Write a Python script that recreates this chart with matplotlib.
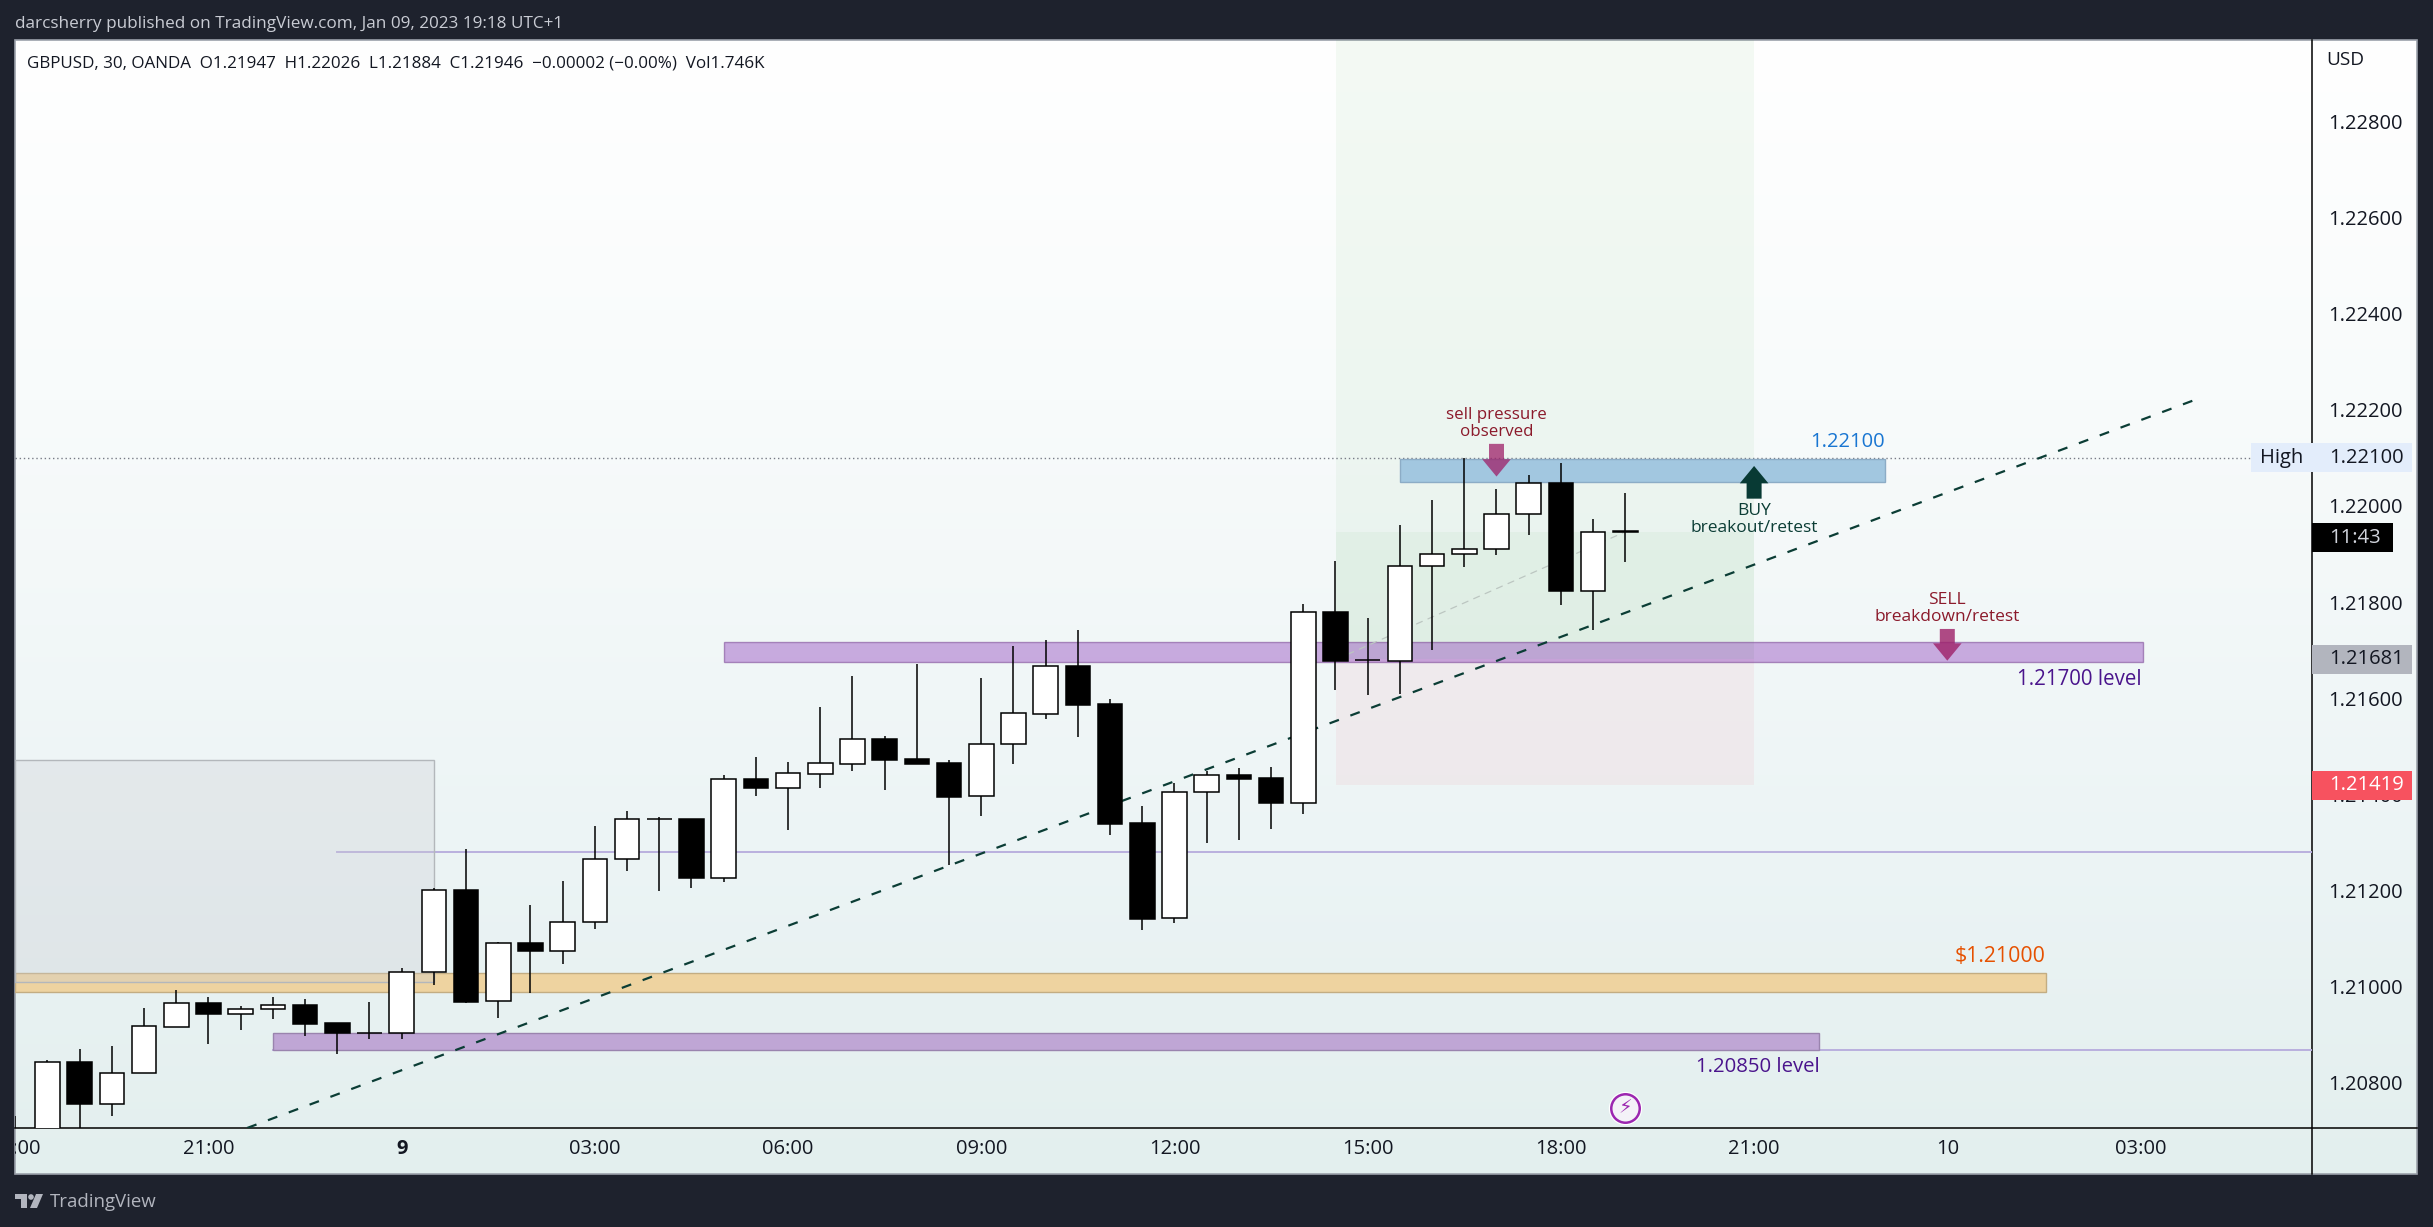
import numpy as np
import matplotlib
matplotlib.use("Agg")
import matplotlib.pyplot as plt
from matplotlib.patches import Rectangle, Polygon, Circle, FancyBboxPatch
from matplotlib.transforms import Bbox

# ---------- data ----------
bar_index = list(range(-6, 45))
opens = [1.20690, 1.20600, 1.20843, 1.20755, 1.20820, 1.20917, 1.20966, 1.20944, 1.20953, 1.20962,
         1.20924, 1.20904, 1.20903, 1.21030, 1.21201, 1.20970, 1.21091, 1.21075, 1.21134, 1.21265,
         1.21349, 1.21349, 1.21227, 1.21432, 1.21414, 1.21443, 1.21464, 1.21515, 1.21474, 1.21466,
         1.21396, 1.21504, 1.21568, 1.21667, 1.21588, 1.21341, 1.21142, 1.21404, 1.21441, 1.21434,
         1.21383, 1.21780, 1.21679, 1.21678, 1.21875, 1.21899, 1.21910, 1.21983, 1.22047, 1.21823,
         1.21947]
highs = [1.20731, 1.20848, 1.20870, 1.20877, 1.20956, 1.20993, 1.20978, 1.20960, 1.20978, 1.20974,
         1.20924, 1.20968, 1.21039, 1.21206, 1.21286, 1.21093, 1.21170, 1.21220, 1.21334, 1.21365,
         1.21352, 1.21349, 1.21440, 1.21478, 1.21468, 1.21582, 1.21646, 1.21522, 1.21671, 1.21472,
         1.21642, 1.21709, 1.21721, 1.21742, 1.21598, 1.21376, 1.21423, 1.21449, 1.21454, 1.21457,
         1.21796, 1.21886, 1.21767, 1.21960, 1.22012, 1.22100, 1.22035, 1.22064, 1.22089, 1.21972,
         1.22026]
lows = [1.20640, 1.20590, 1.20690, 1.20730, 1.20820, 1.20917, 1.20881, 1.20910, 1.20933, 1.20898,
        1.20859, 1.20891, 1.20891, 1.21003, 1.20967, 1.20935, 1.20987, 1.21048, 1.21120, 1.21240,
        1.21198, 1.21206, 1.21218, 1.21397, 1.21326, 1.21414, 1.21449, 1.21409, 1.21464, 1.21253,
        1.21355, 1.21463, 1.21557, 1.21520, 1.21316, 1.21118, 1.21133, 1.21299, 1.21305, 1.21328,
        1.21359, 1.21617, 1.21606, 1.21609, 1.21701, 1.21872, 1.21898, 1.21940, 1.21794, 1.21741,
        1.21884]
closes = [1.20660, 1.20843, 1.20755, 1.20820, 1.20918, 1.20966, 1.20944, 1.20953, 1.20961, 1.20923,
          1.20903, 1.20903, 1.21030, 1.21201, 1.20969, 1.21090, 1.21075, 1.21134, 1.21265, 1.21349,
          1.21348, 1.21227, 1.21431, 1.21414, 1.21444, 1.21465, 1.21515, 1.21472, 1.21464, 1.21395,
          1.21504, 1.21569, 1.21667, 1.21586, 1.21339, 1.21141, 1.21405, 1.21440, 1.21432, 1.21382,
          1.21779, 1.21678, 1.21679, 1.21875, 1.21899, 1.21910, 1.21983, 1.22047, 1.21822, 1.21945,
          1.21946]

time_ticks = [-6, 0, 6, 12, 18, 24, 30, 36, 42, 48, 54, 60]
time_labels = ["18:00", "21:00", "9", "03:00", "06:00", "09:00", "12:00", "15:00", "18:00", "21:00", "10", "03:00"]
price_ticks = [1.208, 1.210, 1.212, 1.214, 1.216, 1.218, 1.220, 1.222, 1.224, 1.226, 1.228]

# zones: left, right, low, high
zone_gray = (-6.01, 7.0, 1.21009, 1.21471)
zone_orange = (-6.01, 57.05, 1.20988, 1.21028)
zone_purple_mid = (16.0, 60.08, 1.21676, 1.21717)
zone_purple_low = (2.0, 50.03, 1.20869, 1.20904)
zone_blue = (37.0, 52.05, 1.22049, 1.22097)

long_left, long_right = 35.03, 48.0
long_top, long_entry, long_stop, long_close = 1.2300, 1.21681, 1.21419, 1.21946
mid_ray = (4.0, 1.21280)
low_ray = (2.0, 1.20869)
high_level = 1.22100
trend_x = [1.2, 61.75]
trend_y = [1.20706, 1.22222]

header = "darcsherry published on TradingView.com, Jan 09, 2023 19:18 UTC+1"
legend = "GBPUSD, 30, OANDA  O1.21947  H1.22026  L1.21884  C1.21946  \u22120.00002 (\u22120.00%)  Vol1.746K"

# ---------- layout ----------
W, H = 2433, 1227
FONT = "Open Sans"
DARK = "#1e222d"
plt.rcParams["font.family"] = [FONT, "DejaVu Sans"]

fig = plt.figure(figsize=(W / 100, H / 100), dpi=100, facecolor=DARK)

page = fig.add_axes([0, 0, 1, 1], zorder=0)
page.set_xlim(0, W)
page.set_ylim(H, 0)
page.axis("off")

ys = np.arange(40, 1175)
stops_y = [40, 400, 850, 1174]
grad = np.stack([np.interp(ys, stops_y, c) for c in ([255, 248, 236, 227], [255, 251, 244, 239], [255, 251, 245, 238])], axis=-1)
page.imshow(grad[:, None, :] / 255.0, extent=(15, 2417, 1174, 40), aspect="auto", zorder=0, interpolation="bilinear")
page.set_xlim(0, W)
page.set_ylim(H, 0)
page.add_patch(Rectangle((15, 40), 2402, 1134, fc="none", ec="#9ba1aa", lw=1.2, zorder=1))
page.plot([2312, 2312], [40, 1174], color="black", lw=1.1, zorder=2)
page.plot([15, 2417], [1128, 1128], color="black", lw=1.1, zorder=2)

page.text(15, 24, header, color="#c9ccd4", fontsize=12.3, va="center", ha="left")
page.text(27, 63, legend, color="#131722", fontsize=12.25, va="center", ha="left")
page.text(2326, 60, "USD", color="#131722", fontsize=13.7, va="center", ha="left")
page.text(50, 1202, "TradingView", color="#b2b5be", fontsize=13.4, va="center", ha="left")
page.add_patch(Polygon([(15, 1194), (27, 1194), (27, 1208), (21, 1208), (21, 1199), (15, 1199)], fc="#b2b5be", lw=0))
page.add_patch(Circle((31, 1197), 2.8, fc="#b2b5be", lw=0))
page.add_patch(Polygon([(36, 1194), (43, 1194), (37, 1208), (30, 1208)], fc="#b2b5be", lw=0))

ax = fig.add_axes([15 / W, 1 - 1128 / H, 2297 / W, 1088 / H], zorder=1)
ax.patch.set_alpha(0)
XL = (-6.009, 65.326)
ax.set_xlim(*XL)
ax.set_ylim(1.20706, 1.22969)
for s in ax.spines.values():
    s.set_visible(False)


def zone(z, fc, ec, zo=2.0):
    ax.add_patch(Rectangle((z[0], z[2]), z[1] - z[0], z[3] - z[2], fc=fc, ec=ec, lw=1.0, zorder=zo))


# long position tool
ax.add_patch(Rectangle((long_left, long_entry), long_right - long_left, long_top - long_entry, fc=(76 / 255, 175 / 255, 80 / 255, 0.06), lw=0, zorder=1))
ax.add_patch(Rectangle((long_left, long_entry), long_right - long_left, long_close - long_entry, fc=(76 / 255, 175 / 255, 80 / 255, 0.05), lw=0, zorder=1.1))
ax.add_patch(Rectangle((long_left, long_stop), long_right - long_left, long_entry - long_stop, fc=(238 / 255, 100 / 255, 120 / 255, 0.08), lw=0, zorder=1))

ax.plot([mid_ray[0], XL[1]], [mid_ray[1]] * 2, color="#b9b0de", lw=1.4, zorder=1.5)
ax.plot([low_ray[0], XL[1]], [low_ray[1]] * 2, color="#b9b0de", lw=1.4, zorder=1.5)
ax.axhline(high_level, xmax=(2251 - 15) / 2297, color="#787b86", lw=1.0, ls=(0, (1, 2)), zorder=1.5)

zone(zone_orange, "#eed3a0", "#c3ad82", zo=1.8)
zone(zone_gray, (204 / 255, 205 / 255, 211 / 255, 0.30), "#b3b7bb", zo=1.9)
zone(zone_purple_low, "#bfa6d5", "#9a84ae")
zone(zone_purple_mid, (0.56, 0.25, 0.74, 0.42), (0.5, 0.3, 0.6, 0.6))
zone(zone_blue, "#a2c7e0", "#8cacc6")

# projected path
ax.annotate("", xy=(long_right - 4.0, long_close), xytext=(long_left, long_entry), zorder=2.2,
            arrowprops=dict(arrowstyle="->", linestyle=(0, (5, 5)), color="#bcc6c1", lw=0.9, shrinkA=0, shrinkB=0))

# trend line
ax.plot(trend_x, trend_y, color="#0b3d35", lw=1.6, ls=(0, (4.5, 5.5)), zorder=2.4)


def big_arrow(x, tail, tip, color, alpha):
    ax.annotate("", xy=(x, tip), xytext=(x, tail), zorder=3,
                arrowprops=dict(width=10.8, headwidth=20.6, headlength=12.5, shrink=0, fc=color, lw=0, alpha=alpha))


big_arrow(40, 1.22129, 1.22061, "#9e1f68", 0.75)
big_arrow(48, 1.22015, 1.22083, "#083a34", 1.0)
big_arrow(54, 1.21744, 1.21678, "#9e1f68", 0.8)

# candles
x = np.array(bar_index, float)
o, h, l, c = map(np.array, (opens, highs, lows, closes))
ax.vlines(x, l, h, color="black", lw=1.1, zorder=4)
up = c >= o
ax.bar(x, np.abs(c - o), bottom=np.minimum(o, c), width=0.76,
       color=["white" if u else "black" for u in up], edgecolor="black", lw=1.1, zorder=5)

# annotations
RED_T = "#8b1a2b"
GREEN_T = "#0b3d35"
ax.text(40, 1.22171, "sell pressure\nobserved", color=RED_T, fontsize=12.2, ha="center", va="center", linespacing=1.05, zorder=6)
ax.text(48, 1.21972, "BUY\nbreakout/retest", color=GREEN_T, fontsize=12.5, ha="center", va="center", linespacing=1.05, zorder=6)
ax.text(54, 1.21786, "SELL\nbreakdown/retest", color=RED_T, fontsize=12.5, ha="center", va="center", linespacing=1.05, zorder=6)
ax.text(52.05, 1.22132, "1.22100", color="#1976d2", fontsize=14.5, ha="right", va="center", zorder=6)
ax.text(60.05, 1.21639, "1.21700 level", color="#4a148c", fontsize=14.8, ha="right", va="center", zorder=6)
ax.text(57.05, 1.21063, "$1.21000", color="#e65100", fontsize=15.3, ha="right", va="center", zorder=6)
ax.text(50.03, 1.20833, "1.20850 level", color="#4a148c", fontsize=14.7, ha="right", va="center", zorder=6)

ax.plot([44], [1.20748], marker="o", ms=23, mfc="white", mec="white", zorder=6)
ax.plot([44], [1.20748], marker="o", ms=20.5, mfc="#f4f2f8", mec="#9c27b0", mew=1.8, zorder=6.1)
ax.text(44, 1.20748, "\u26a1", color="#9c27b0", fontsize=14, family="DejaVu Sans", ha="center", va="center", zorder=6.2)

# axes ticks
ax.yaxis.tick_right()
ax.set_yticks(price_ticks)
ax.set_yticklabels([f"{p:.5f}" for p in price_ticks], fontsize=14.5, color="#131722", ha="left")
ax.tick_params(axis="y", length=0, pad=12)
ax.set_xticks(time_ticks)
ax.set_xticklabels(time_labels, fontsize=14.5, color="#131722")
ax.tick_params(axis="x", length=0, pad=8)
panel_clip = Bbox.from_extents(15, H - 1174, 2417, H - 40)
for lab, txt in zip(ax.get_xticklabels(), time_labels):
    lab.set_clip_box(panel_clip)
    lab.set_clip_on(True)
    if txt == "9":
        lab.set_fontweight("bold")

# price labels on the scale
ROW = 0.0003
AX_R = XL[1]
AX_R2 = 68.43


def scale_tag(left, right, price, fc, text, tc, tx):
    ax.add_patch(FancyBboxPatch((left, price - ROW), right - left, 2 * ROW, boxstyle="square,pad=0", fc=fc, lw=0, zorder=8, clip_on=False))
    ax.text(tx, price, text, color=tc, fontsize=14.5, ha="left", va="center", zorder=9, clip_on=False)


TX = 65.85
scale_tag(AX_R - 1.9, AX_R, 1.22100, "#e3edfb", "High", "#131722", AX_R - 1.6)
scale_tag(AX_R, AX_R2, 1.22100, "#e3edfb", "1.22100", "#131722", TX)
scale_tag(AX_R, 67.83, 1.21950 - 0.00016, "#000000", "11:43", "#d1d4dc", TX)
scale_tag(AX_R, AX_R2, 1.21681, "#b2b5be", "1.21681", "#131722", TX)
scale_tag(AX_R, AX_R2, 1.21419, "#f7525f", "1.21419", "white", TX)

fig.savefig("out.png", dpi=100, facecolor=DARK)
